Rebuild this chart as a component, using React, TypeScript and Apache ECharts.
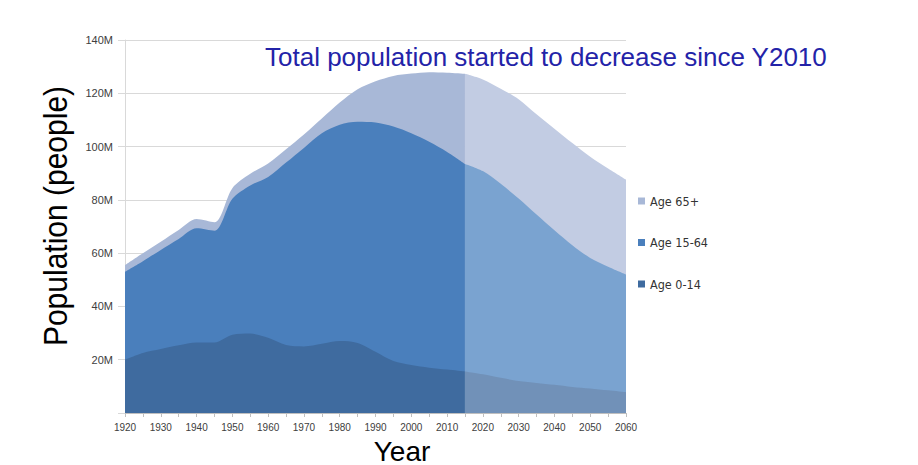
import React, { useEffect, useRef } from "react";
import * as echarts from "echarts";

// Years (5-year steps); projection starts after 2015
const years = [1920, 1925, 1930, 1935, 1940, 1945, 1950, 1955, 1960, 1965, 1970, 1975, 1980, 1985, 1990, 1995, 2000, 2005, 2010, 2015, 2020, 2025, 2030, 2035, 2040, 2045, 2050, 2055, 2060];
const splitYear = 2015;

// Population by age group, millions
const age0to14 = [20, 22.5, 24, 25.4, 26.5, 26.5, 29.4, 29.8, 28.2, 25.5, 25, 26, 27, 26.3, 23, 19.5, 18, 17, 16.3, 15.6, 14.5, 13.2, 12, 11.3, 10.6, 9.8, 9.2, 8.5, 7.8];
const age15to64 = [33, 34.5, 37.2, 39.9, 42.8, 41.9, 51, 55.6, 60.4, 68.5, 74.5, 79, 81.2, 83, 86, 88, 87, 84.8, 81.7, 77.9, 76.3, 72.8, 68.5, 63.2, 58, 53.2, 49, 46.4, 44.2];
const age65plus = [2.5, 3, 3.1, 3.4, 3.5, 3.2, 4, 4.4, 5, 5, 5, 5.5, 8.3, 12.2, 15.5, 19, 22.4, 26.1, 29.7, 33.8, 34.4, 35.7, 37.3, 37.6, 38.1, 38.3, 38, 36.9, 35.6];

const legendOrder = ["Age 65+", "Age 15-64", "Age 0-14"];
const yTicks = [0, 20, 40, 60, 80, 100, 120, 140];

const titleText = "Total population started to decrease since Y2010";
const yName = "Population (people)";
const xName = "Year";

// colours in legend order: 65+, 15-64, 0-14
const pastColors = ["#a8b8d7", "#4a7fbc", "#3f6b9f"];
const futureColors = ["#c2cce3", "#7aa3d0", "#7191b8"];

export default function App() {
  const ref = useRef<HTMLDivElement>(null);

  useEffect(() => {
    if (!ref.current) return;
    const chart = echarts.init(ref.current, undefined, { renderer: "svg" });

    // cumulative tops of each band (drawn back to front)
    const top014 = age0to14.slice();
    const top1564 = age0to14.map((v, i) => v + age15to64[i]);
    const topAll = top1564.map((v, i) => v + age65plus[i]);
    const tops = [topAll, top1564, top014];

    const past = (arr: number[]) => years.map((y, i) => [y, arr[i]]).filter((p) => p[0] <= splitYear);
    const future = (arr: number[]) => years.map((y, i) => [y, arr[i]]).filter((p) => p[0] >= splitYear);

    const mk = (name: string, data: number[][], color: string) => ({
      name,
      type: "line",
      data,
      smooth: 0.3,
      showSymbol: false,
      symbol: "none",
      lineStyle: { width: 0, color },
      itemStyle: { color },
      areaStyle: { color, opacity: 1, origin: "start" },
      silent: true,
    });

    const series: any[] = [];
    tops.forEach((t, i) => series.push(mk(legendOrder[i], past(t), pastColors[i])));
    tops.forEach((t, i) => series.push(mk(legendOrder[i], future(t), futureColors[i])));

    const labelFont = "'Liberation Sans', Arial, sans-serif";

    chart.setOption({
      animation: false,
      backgroundColor: "#ffffff",
      title: {
        text: titleText,
        left: 265,
        top: 44,
        padding: 0,
        textStyle: { color: "#2323a8", fontSize: 26, fontWeight: "normal", fontFamily: labelFont },
      },
      legend: {
        orient: "vertical",
        left: 638,
        top: 194,
        padding: 0,
        itemWidth: 7,
        itemHeight: 7,
        itemGap: 27.5,
        icon: "rect",
        data: legendOrder,
        selectedMode: false,
        textStyle: {
          fontSize: 12.5,
          lineHeight: 14,
          color: "#333333",
          fontFamily: "'Liberation Sans Narrow', 'DejaVu Sans Condensed', Lato, sans-serif",
        },
      },
      grid: { left: 125, top: 40, width: 501, height: 373, containLabel: false },
      xAxis: {
        type: "value",
        min: 1920,
        max: 2060,
        interval: 10,
        axisLine: { show: true, lineStyle: { color: "#bfbfbf", width: 1 } },
        axisTick: { show: true, length: 4, lineStyle: { color: "#bfbfbf" } },
        minorTick: { show: true, splitNumber: 2, length: 4, lineStyle: { color: "#bfbfbf" } },
        splitLine: { show: false },
        minorSplitLine: { show: false },
        axisLabel: {
          fontSize: 10,
          color: "#404040",
          margin: 9,
          fontFamily: labelFont,
          formatter: (v: number) => String(v),
        },
      },
      yAxis: {
        type: "value",
        min: 0,
        max: 140,
        interval: 20,
        axisLine: { show: true, lineStyle: { color: "#d9d9d9" } },
        axisTick: { show: true, length: 7, lineStyle: { color: "#d9d9d9" } },
        splitLine: { show: true, lineStyle: { color: "#d9d9d9" } },
        axisLabel: {
          fontSize: 11,
          color: "#404040",
          margin: 12,
          fontFamily: labelFont,
          formatter: (v: number) => (yTicks.indexOf(v) > 0 ? v + "M" : ""),
        },
      },
      graphic: [
        {
          type: "text",
          x: 55,
          y: 216,
          rotation: Math.PI / 2,
          scaleY: 1.12,
          silent: true,
          style: {
            text: yName,
            fill: "#000000",
            fontSize: 30,
            fontFamily: labelFont,
            textAlign: "center",
            textVerticalAlign: "middle",
          },
        },
        {
          type: "text",
          x: 402,
          y: 451,
          silent: true,
          style: {
            text: xName,
            fill: "#000000",
            fontSize: 28,
            fontFamily: labelFont,
            textAlign: "center",
            textVerticalAlign: "middle",
          },
        },
      ],
      series,
    });

    return () => chart.dispose();
  }, []);

  return (
    <div
      ref={ref}
      style={{ position: "absolute", left: 0, top: 0, width: 918, height: 465, overflow: "hidden" }}
    />
  );
}
